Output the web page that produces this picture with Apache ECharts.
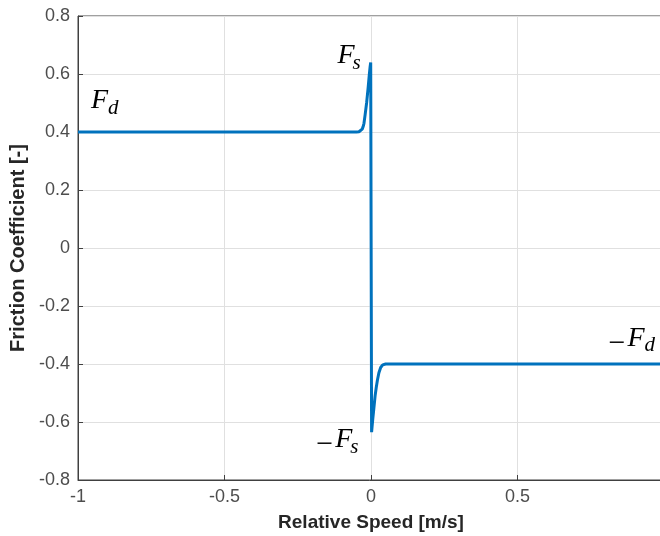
<!DOCTYPE html>
<html><head><meta charset="utf-8">
<script src="https://cdn.jsdelivr.net/npm/echarts@6/dist/echarts.min.js"></script>
<style>html,body{margin:0;padding:0;background:#fff}#c{width:660px;height:536px}</style>
</head><body><div id="c"></div>
<script>
// Relative speed [m/s] and friction coefficient
const speeds   = [-1, -0.05, -0.041, -0.035, -0.03, -0.027, -0.024, -0.02, -0.015, -0.01, -0.006, -0.003, -0.001,
                  0.002, 0.006, 0.01, 0.014, 0.018, 0.022, 0.027, 0.033, 0.04, 0.05, 1];
const friction = [0.4, 0.4, 0.401, 0.405, 0.41, 0.418, 0.43, 0.46, 0.5, 0.55, 0.595, 0.625, 0.64,
                  -0.635, -0.59, -0.55, -0.51, -0.48, -0.455, -0.43, -0.412, -0.403, -0.4, -0.4];
const xTickLabels = ['-1', '-0.5', '0', '0.5', '1'];
const yTickLabels = ['-0.8', '-0.6', '-0.4', '-0.2', '0', '0.2', '0.4', '0.6', '0.8'];
// annotation texts: prefix, main letter, subscript, anchor (data coords of main-letter left/baseline)
const annoPre  = ['', '', '\u2212', '\u2212'];
const annoMain = ['F', 'F', 'F', 'F'];
const annoSub  = ['d', 's', 's', 'd'];
const annoAt   = [[-0.956, 0.479], [-0.114, 0.634], [-0.122, -0.690], [0.875, -0.341]];

const chart = echarts.init(document.getElementById('c'), null, {renderer: 'canvas'});
const axisColor = '#404040';
const fmt = (list, lo, step) => v => list[Math.round((v - lo) / step)];
chart.setOption({
  animation: false,
  backgroundColor: '#fff',
  grid: {left: 78, top: 16, width: 586, height: 464, show: true, borderColor: axisColor, borderWidth: 1,
         containLabel: false, outerBoundsMode: 'none'},
  xAxis: {
    type: 'value', min: -1, max: 1, interval: 0.5,
    name: 'Relative Speed [m/s]', nameLocation: 'middle', nameGap: 33,
    nameTextStyle: {fontFamily: 'Liberation Sans', fontWeight: 'bold', fontSize: 19, color: '#262626'},
    axisLine: {show: true, onZero: false, lineStyle: {color: axisColor, width: 1}},
    axisTick: {show: true, inside: true, length: 5, lineStyle: {color: axisColor}},
    axisLabel: {fontFamily: 'Liberation Sans', fontSize: 18, color: '#4d4d4d', margin: 8, formatter: fmt(xTickLabels, -1, 0.5)},
    splitLine: {show: true, lineStyle: {color: '#e0e0e0', width: 1}}
  },
  yAxis: {
    type: 'value', min: -0.8, max: 0.8, interval: 0.2,
    name: 'Friction Coefficient [-]', nameLocation: 'middle', nameGap: 42,
    nameTextStyle: {fontFamily: 'Liberation Sans', fontWeight: 'bold', fontSize: 20, color: '#262626'},
    axisLine: {show: true, onZero: false, lineStyle: {color: axisColor, width: 1}},
    axisTick: {show: true, inside: true, length: 5, lineStyle: {color: axisColor}},
    axisLabel: {fontFamily: 'Liberation Sans', fontSize: 18, color: '#4d4d4d', margin: 8, formatter: fmt(yTickLabels, -0.8, 0.2)},
    splitLine: {show: true, lineStyle: {color: '#e0e0e0', width: 1}}
  },
  series: [{
    type: 'line', data: speeds.map((v, i) => [v, friction[i]]),
    showSymbol: false, symbol: 'none', clip: true,
    lineStyle: {color: '#0072BD', width: 3}, itemStyle: {color: '#0072BD'}
  }]
});

const serif = '"Liberation Serif", "DejaVu Serif", serif';
const elements = [];
annoAt.forEach((p, i) => {
  const [x, y] = chart.convertToPixel({gridIndex: 0}, p);
  if (annoPre[i]) {
    elements.push({type: 'text', x: x - 19, y: y - 18, style: {text: annoPre[i], font: '30px ' + serif, fill: '#000', textAlign: 'left', textVerticalAlign: 'top'}, z: 10});
  }
  elements.push({type: 'text', x: x, y: y - 22, style: {text: annoMain[i], font: 'italic 28px ' + serif, fill: '#000', textAlign: 'left', textVerticalAlign: 'top'}, z: 10});
  elements.push({type: 'text', x: x + (annoSub[i] === 'd' ? 17 : 15), y: y - 11.5, style: {text: annoSub[i], font: 'italic 21px ' + serif, fill: '#000', textAlign: 'left', textVerticalAlign: 'top'}, z: 10});
});
chart.setOption({graphic: {elements: elements}});
</script></body></html>
